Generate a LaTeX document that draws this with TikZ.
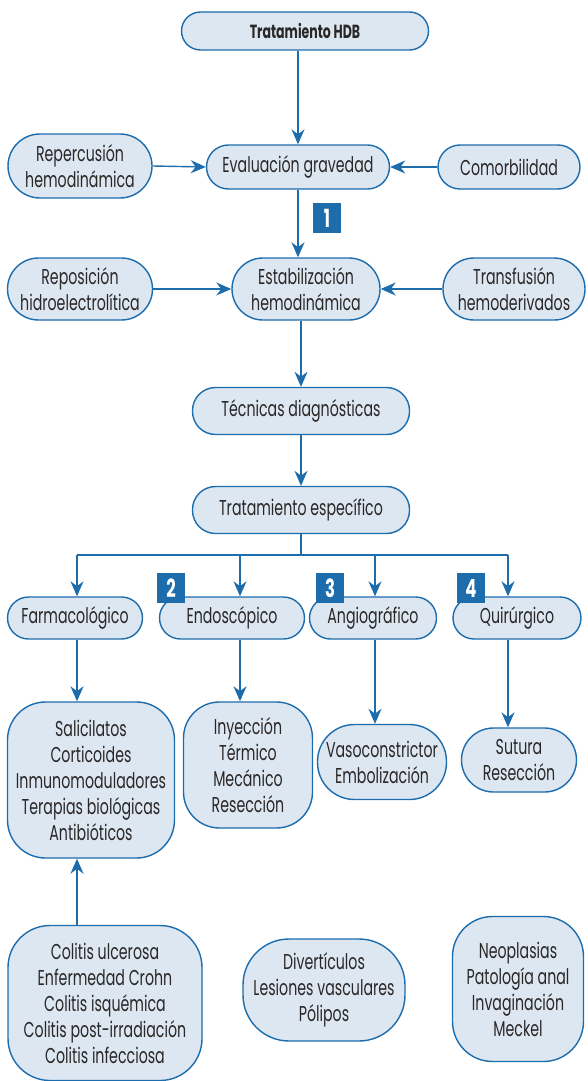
\documentclass[tikz,border=0pt]{standalone}
\usepackage{fontspec}
\setmainfont{Poppins}[FakeStretch=0.66]
\usepackage{tikz}
\usetikzlibrary{arrows.meta,positioning}
\definecolor{azul}{HTML}{1D6CAC}
\definecolor{celeste}{HTML}{DDE7F2}
\definecolor{texto}{HTML}{2A2727}
\tikzstyle{box}=[draw=azul,fill=celeste,line width=1.4pt,text=texto,align=center,inner sep=2pt,rounded corners=21pt,minimum height=42pt]
\tikzstyle{bigbox}=[box,rounded corners=38pt]
\tikzstyle{badge}=[fill=azul,text=white,font=\bfseries\fontsize{25}{25}\selectfont,minimum width=28pt,minimum height=30pt,inner sep=0pt]
\tikzstyle{edge}=[draw=azul,line width=1.4pt,-{Stealth[length=15pt,width=13pt]}]
\tikzstyle{line}=[draw=azul,line width=1.4pt]

\begin{document}
\begin{tikzpicture}[x=1pt,y=-1pt,font=\fontsize{21.5}{26}\selectfont]
        \useasboundingbox (0,0) rectangle (588,1081);
        \node[box,minimum width=247pt,minimum height=38pt,rounded corners=19pt,font=\bfseries\fontsize{19}{20}\selectfont] (hdb) at (305,31) {Tratamiento HDB};
        \node[box,minimum width=183pt,minimum height=44pt,rounded corners=22pt] (eval) at (298,167) {Evaluación gravedad};
        \node[box,minimum width=144pt,minimum height=64pt,rounded corners=32pt] (rep) at (80,166) {Repercusión\\hemodinámica};
        \node[box,minimum width=142pt,minimum height=44pt,rounded corners=22pt] (com) at (509,167) {Comorbilidad};
        \node[badge] (n1) at (327,218) {1};

        \node[box,minimum width=148pt,minimum height=62pt,rounded corners=31pt] (estab) at (306,289) {Estabilización\\hemodinámica};
        \node[box,minimum width=145pt,minimum height=62pt,rounded corners=31pt] (repo) at (80,289) {Reposición\\hidroelectrolítica};
        \node[box,minimum width=142pt,minimum height=62pt,rounded corners=31pt] (trans) at (514,289) {Transfusión\\hemoderivados};

        \node[box,minimum width=217pt,minimum height=47pt,rounded corners=23pt] (tec) at (301,411) {Técnicas diagnósticas};
        \node[box,minimum width=217pt,minimum height=47pt,rounded corners=23pt] (esp) at (301,510) {Tratamiento específico};

        \coordinate (b1) at (77,555);
        \coordinate (b2) at (240,555);
        \coordinate (b3) at (375,555);
        \coordinate (b4) at (508,555);

        \node[box,minimum width=135pt] (farm) at (75,618) {Farmacológico};
        \node[box,minimum width=145pt] (endo) at (232,618) {Endoscópico};
        \node[box,minimum width=127pt] (angio) at (373,618) {Angiográfico};
        \node[box,minimum width=128pt] (quir) at (517,618) {Quirúrgico};
        \node[badge] (n2) at (171,588) {2};
        \node[badge] (n3) at (330,588) {3};
        \node[badge] (n4) at (471,588) {4};

        \node[bigbox,minimum width=167pt,minimum height=156pt] (sal) at (91,780) {Salicilatos\\Corticoides\\Inmunomoduladores\\Terapias biológicas\\Antibióticos};
        \node[bigbox,minimum width=129pt,minimum height=126pt,rounded corners=36pt] (iny) at (248,765) {Inyección\\Térmico\\Mecánico\\Resección};
        \node[box,minimum width=129pt,minimum height=75pt,rounded corners=37pt] (vaso) at (382,762) {Vasoconstrictor\\Embolización};
        \node[box,minimum width=115pt,minimum height=64pt,rounded corners=32pt] (sut) at (519,760) {Sutura\\Resección};

        \node[bigbox,minimum width=194pt,minimum height=155pt,rounded corners=42pt] (col) at (105,1003) {Colitis ulcerosa\\Enfermedad Crohn\\Colitis isquémica\\Colitis post-irradiación\\Colitis infecciosa};
        \node[bigbox,minimum width=162pt,minimum height=102pt,rounded corners=46pt] (div) at (324,990) {Divertículos\\Lesiones vasculares\\Pólipos};
        \node[bigbox,minimum width=131pt,minimum height=145pt,rounded corners=40pt] (neo) at (518,989) {Neoplasias\\Patología anal\\Invaginación\\Meckel};

        \draw[edge] (eval |- hdb.south) to (eval.north);
        \draw[edge] (rep.east) to (eval.west);
        \draw[edge] (com.west) to (eval.east);
        \draw[edge] (eval.south) to (eval.south |- estab.north);
        \draw[edge] (repo.east) to (estab.west);
        \draw[edge] (trans.west) to (estab.east);
        \draw[edge] (estab.south -| tec.north) to (tec.north);
        \draw[edge] (tec.south) to (esp.north);

        \draw[line] (esp.south) to (esp.south |- b1);
        \draw[line] (b1) to (b4);
        \draw[edge] (b1) to (b1 |- farm.north);
        \draw[edge] (b2) to (b2 |- endo.north);
        \draw[edge] (b3) to (b3 |- angio.north);
        \draw[edge] (b4) to (b4 |- quir.north);

        \draw[edge] (b1 |- farm.south) to (b1 |- sal.north);
        \draw[edge] (b2 |- endo.south) to (b2 |- iny.north);
        \draw[edge] (b3 |- angio.south) to (b3 |- vaso.north);
        \draw[edge] (b4 |- quir.south) to (b4 |- sut.north);
        \draw[edge] (b1 |- col.north) to (b1 |- sal.south);
\end{tikzpicture}
\end{document}
